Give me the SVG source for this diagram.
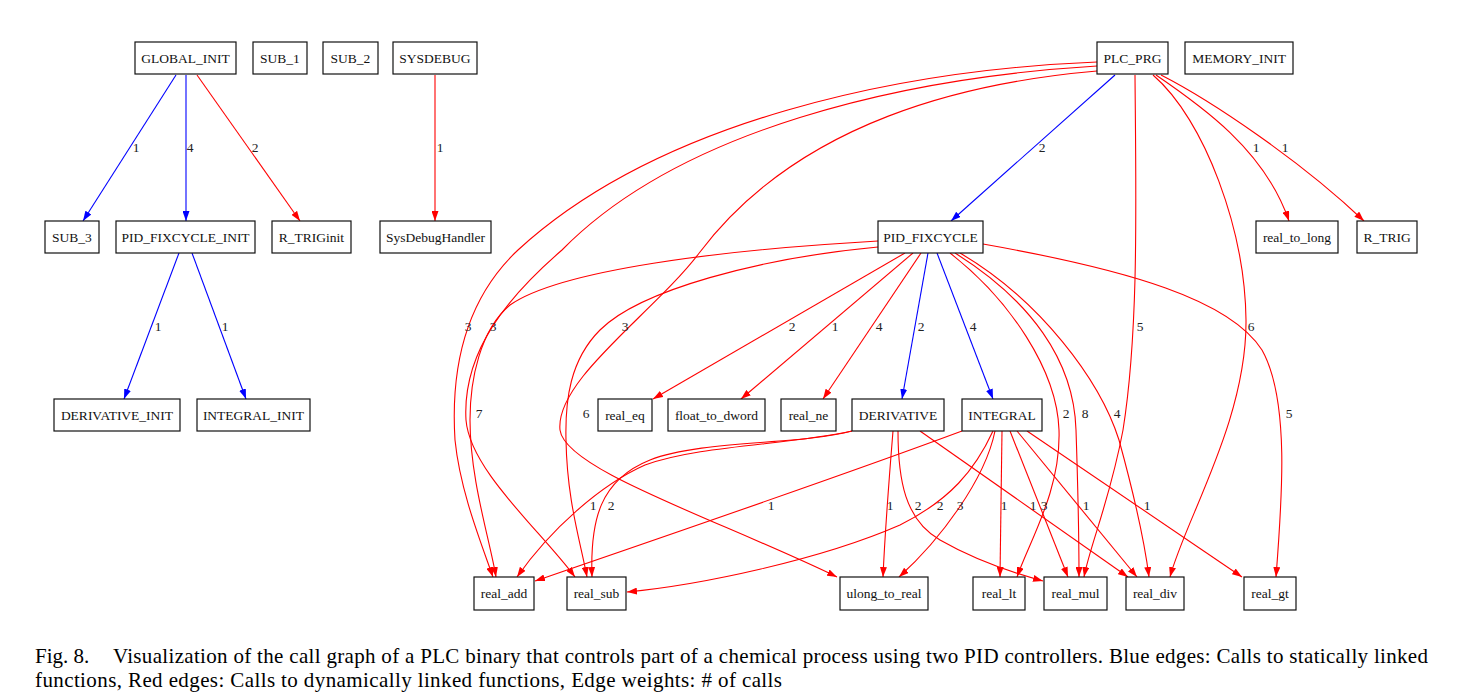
<svg xmlns="http://www.w3.org/2000/svg" width="1469" height="695" viewBox="0 0 1469 695">
<style>
.n rect{fill:#fff;stroke:#111;stroke-width:1.2}
.n text{font-family:"Liberation Serif","Times New Roman",serif;font-size:13.5px;fill:#111;text-anchor:middle}
.e path{fill:none;stroke-width:1.1}
.e .r{stroke:#f00;marker-end:url(#ar)}
.e .b{stroke:#00f;marker-end:url(#ab)}
.l text{font-family:"Liberation Serif","Times New Roman",serif;font-size:13.5px;fill:#222;text-anchor:middle}
.cap{font-family:"Liberation Serif","Times New Roman",serif;font-size:21px;fill:#000}
</style>
<defs>
<marker id="ar" viewBox="0 0 10 7" refX="10" refY="3.5" markerWidth="10" markerHeight="7" markerUnits="userSpaceOnUse" orient="auto"><path d="M0,0 L10,3.5 L0,7 z" fill="#f00"/></marker>
<marker id="ab" viewBox="0 0 10 7" refX="10" refY="3.5" markerWidth="10" markerHeight="7" markerUnits="userSpaceOnUse" orient="auto"><path d="M0,0 L10,3.5 L0,7 z" fill="#00f"/></marker>
</defs>
<rect width="1469" height="695" fill="#fff"/>

<g id="connectors" class="e">
<path class="b" d="M176,75 L83,221"/>
<path class="b" d="M186,75 L186,221"/>
<path class="r" d="M197,75 L300,221"/>
<path class="r" d="M435,75 L435,221"/>
<path class="b" d="M179,253 L124,399"/>
<path class="b" d="M192,253 L246,399"/>
<path class="b" d="M1115,75 L951,221"/>
<path class="b" d="M928,253 L902,399"/>
<path class="b" d="M937,253 L993,399"/>
<path class="r" d="M1156,75 C1200,105 1265,150 1289,221"/>
<path class="r" d="M1161,75 C1210,100 1300,160 1364,221"/>
<path class="r" d="M1135,75 C1136,200 1139,330 1123,430 C1110,500 1090,545 1084,577"/>
<path class="r" d="M1153,75 C1205,120 1245,230 1246,320 C1247,420 1185,520 1170,577"/>
<path class="r" d="M1097,62 C900,70 660,120 518,250 C470,295 450,360 455,440 C460,490 480,540 493,577"/>
<path class="r" d="M1097,66 C900,78 680,130 562,250 C510,295 462,350 466,420 C470,470 540,530 575,577"/>
<path class="r" d="M1097,71 C970,82 800,120 700,252 C655,312 555,380 560,430 C565,470 720,520 837,577"/>
<path class="r" d="M878,241 C720,250 560,270 510,305 C480,330 470,380 470,420 C470,480 490,540 496,577"/>
<path class="r" d="M878,247 C760,258 640,290 600,330 C570,360 565,400 566,440 C567,500 580,540 587,577"/>
<path class="r" d="M905,253 L653,399"/>
<path class="r" d="M913,253 L741,399"/>
<path class="r" d="M921,253 L823,399"/>
<path class="r" d="M950,253 C1010,300 1057,370 1059,430 C1061,490 1030,540 1017,577"/>
<path class="r" d="M955,253 C1030,300 1074,360 1076,430 C1078,490 1079,540 1079,577"/>
<path class="r" d="M960,253 C1040,300 1100,380 1119,440 C1130,480 1143,530 1149,577"/>
<path class="r" d="M983,244 C1130,270 1230,300 1262,350 C1290,400 1282,500 1276,577"/>
<path class="r" d="M852,431 C790,445 700,445 645,465 C600,485 550,530 517,577"/>
<path class="r" d="M852,431 C800,445 700,440 650,460 C600,480 590,520 592,577"/>
<path class="r" d="M893,431 C889,480 885,530 883,577"/>
<path class="r" d="M898,431 C898,480 905,520 940,540 C975,560 1010,572 1043,581"/>
<path class="r" d="M920,431 L1128,577"/>
<path class="r" d="M962,431 C830,480 640,545 535,581"/>
<path class="r" d="M993,431 C975,470 950,500 900,525 C820,560 700,585 627,592"/>
<path class="r" d="M995,431 C985,480 940,540 899,577"/>
<path class="r" d="M1002,431 L1000,577"/>
<path class="r" d="M1010,431 L1068,577"/>
<path class="r" d="M1017,431 L1137,577"/>
<path class="r" d="M1027,431 L1242,577"/>
</g>

<g id="edge-labels" class="l">
<text x="136" y="152">1</text>
<text x="190" y="152">4</text>
<text x="255" y="152">2</text>
<text x="440" y="152">1</text>
<text x="158" y="331">1</text>
<text x="225" y="331">1</text>
<text x="1042" y="152">2</text>
<text x="1256" y="152">1</text>
<text x="1285" y="152">1</text>
<text x="468" y="331">3</text>
<text x="493" y="331">3</text>
<text x="625" y="331">3</text>
<text x="1140" y="331">5</text>
<text x="1251" y="331">6</text>
<text x="792" y="331">2</text>
<text x="835" y="331">1</text>
<text x="879" y="331">4</text>
<text x="921" y="331">2</text>
<text x="973" y="331">4</text>
<text x="479" y="418">7</text>
<text x="586" y="418">6</text>
<text x="1066" y="418">2</text>
<text x="1085" y="418">8</text>
<text x="1117" y="418">4</text>
<text x="1289" y="418">5</text>
<text x="593" y="510">1</text>
<text x="611" y="510">2</text>
<text x="890" y="510">1</text>
<text x="918" y="510">2</text>
<text x="1033" y="510">1</text>
<text x="771" y="510">1</text>
<text x="940" y="510">2</text>
<text x="960" y="510">3</text>
<text x="1004" y="510">1</text>
<text x="1044" y="510">3</text>
<text x="1086" y="510">1</text>
<text x="1147" y="510">1</text>
</g>

<g id="GLOBAL_INIT" class="n"><rect x="135" y="42" width="101" height="32"/><text x="185.5" y="63">GLOBAL_INIT</text></g>
<g id="SUB_1" class="n"><rect x="253" y="42" width="54" height="32"/><text x="280" y="63">SUB_1</text></g>
<g id="SUB_2" class="n"><rect x="323" y="42" width="55" height="32"/><text x="350.5" y="63">SUB_2</text></g>
<g id="SYSDEBUG" class="n"><rect x="393" y="42" width="84" height="32"/><text x="435" y="63">SYSDEBUG</text></g>
<g id="PLC_PRG" class="n"><rect x="1097" y="42" width="71" height="32"/><text x="1132.5" y="63">PLC_PRG</text></g>
<g id="MEMORY_INIT" class="n"><rect x="1185" y="42" width="108" height="32"/><text x="1239" y="63">MEMORY_INIT</text></g>

<g id="SUB_3" class="n"><rect x="45" y="221" width="54" height="32"/><text x="72" y="242">SUB_3</text></g>
<g id="PID_FIXCYCLE_INIT" class="n"><rect x="116" y="221" width="139" height="32"/><text x="185.5" y="242">PID_FIXCYCLE_INIT</text></g>
<g id="R_TRIGinit" class="n"><rect x="272" y="221" width="79" height="32"/><text x="311.5" y="242">R_TRIGinit</text></g>
<g id="SysDebugHandler" class="n"><rect x="380" y="221" width="111" height="32"/><text x="435.5" y="242">SysDebugHandler</text></g>
<g id="PID_FIXCYCLE" class="n"><rect x="878" y="221" width="105" height="32"/><text x="930.5" y="242">PID_FIXCYCLE</text></g>
<g id="real_to_long" class="n"><rect x="1256" y="221" width="82" height="32"/><text x="1297" y="242">real_to_long</text></g>
<g id="R_TRIG" class="n"><rect x="1357" y="221" width="60" height="32"/><text x="1387" y="242">R_TRIG</text></g>

<g id="DERIVATIVE_INIT" class="n"><rect x="54" y="399" width="126" height="32"/><text x="117" y="420">DERIVATIVE_INIT</text></g>
<g id="INTEGRAL_INIT" class="n"><rect x="197" y="399" width="113" height="32"/><text x="253.5" y="420">INTEGRAL_INIT</text></g>
<g id="real_eq" class="n"><rect x="598" y="399" width="54" height="32"/><text x="625" y="420">real_eq</text></g>
<g id="float_to_dword" class="n"><rect x="668" y="399" width="97" height="32"/><text x="716.5" y="420">float_to_dword</text></g>
<g id="real_ne" class="n"><rect x="781" y="399" width="55" height="32"/><text x="808.5" y="420">real_ne</text></g>
<g id="DERIVATIVE" class="n"><rect x="852" y="399" width="92" height="32"/><text x="898" y="420">DERIVATIVE</text></g>
<g id="INTEGRAL" class="n"><rect x="962" y="399" width="80" height="32"/><text x="1002" y="420">INTEGRAL</text></g>

<g id="real_add" class="n"><rect x="474" y="577" width="60" height="33"/><text x="504" y="598">real_add</text></g>
<g id="real_sub" class="n"><rect x="567" y="577" width="59" height="33"/><text x="596.5" y="598">real_sub</text></g>
<g id="ulong_to_real" class="n"><rect x="840" y="577" width="88" height="33"/><text x="884" y="598">ulong_to_real</text></g>
<g id="real_lt" class="n"><rect x="973" y="577" width="52" height="33"/><text x="999" y="598">real_lt</text></g>
<g id="real_mul" class="n"><rect x="1044" y="577" width="63" height="33"/><text x="1075.5" y="598">real_mul</text></g>
<g id="real_div" class="n"><rect x="1126" y="577" width="58" height="33"/><text x="1155" y="598">real_div</text></g>
<g id="real_gt" class="n"><rect x="1244" y="577" width="52" height="33"/><text x="1270" y="598">real_gt</text></g>

<g id="caption">
<text class="cap" x="35" y="663">Fig. 8.</text>
<text class="cap" x="113" y="663" textLength="1315" lengthAdjust="spacing">Visualization of the call graph of a PLC binary that controls part of a chemical process using two PID controllers. Blue edges: Calls to statically linked</text>
<text class="cap" x="35" y="687" textLength="747" lengthAdjust="spacing">functions, Red edges: Calls to dynamically linked functions, Edge weights: # of calls</text>
</g>
</svg>
